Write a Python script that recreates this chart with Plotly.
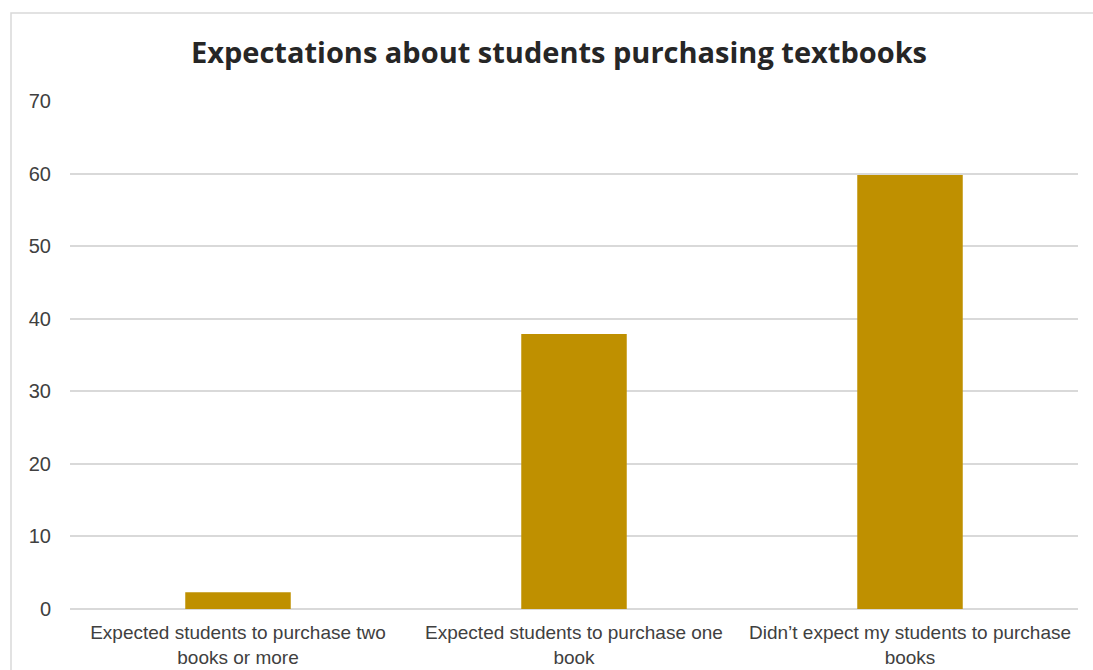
import plotly.graph_objects as go

categories = [
    "Expected students to purchase two<br>books or more",
    "Expected students to purchase one<br>book",
    "Didn’t expect my students to purchase<br>books",
]
values = [2.3, 37.9, 59.8]
y_ticks = [0, 10, 20, 30, 40, 50, 60, 70]

W, H = 1093, 670
L, R, T, B = 70, 15, 101, 61
pw, ph = W - L - R, H - T - B

def px_x(p):
    return (p - L) / pw

def px_y(p):
    return (H - B - p) / ph

fig = go.Figure(go.Bar(
    x=categories, y=values,
    marker=dict(color="#BF9000", line=dict(width=0)),
    hoverinfo="x+y",
))

fig.update_layout(
    width=W, height=H,
    margin=dict(l=L, r=R, t=T, b=B, autoexpand=False),
    paper_bgcolor="white", plot_bgcolor="white",
    bargap=0.686,
    showlegend=False,
    title=dict(
        text="<b>Expectations about students purchasing textbooks</b>",
        x=559 / W, xanchor="center", xref="container",
        y=1 - 53 / H, yanchor="middle", yref="container",
        font=dict(family="'Open Sans', Lato, sans-serif", size=29, color="#262626"),
    ),
    xaxis=dict(
        showgrid=False, showline=False, zeroline=False, automargin=False,
        tickfont=dict(family="'Liberation Sans', Arial, sans-serif", size=19, color="#404040"),
        ticks="", ticklabelstandoff=10,
    ),
    yaxis=dict(
        range=[0, 70], tickvals=y_ticks, automargin=False,
        showgrid=True, gridcolor="#d9d9d9", gridwidth=1.6,
        zeroline=True, zerolinecolor="#d9d9d9", zerolinewidth=1.6,
        showline=False, ticks="", ticklabelstandoff=18,
        tickfont=dict(family="'Liberation Sans', Arial, sans-serif", size=20, color="#404040"),
    ),
    shapes=[dict(
        type="rect", xref="paper", yref="paper",
        x0=px_x(11), x1=px_x(1110), y0=px_y(690), y1=px_y(13),
        line=dict(color="#d9d9d9", width=1.5), fillcolor="rgba(0,0,0,0)", layer="below",
    )],
)

fig.write_html(
    "out.html",
    config={"displayModeBar": False},
    post_script="document.body.style.margin='0';document.body.style.overflow='hidden';",
)
